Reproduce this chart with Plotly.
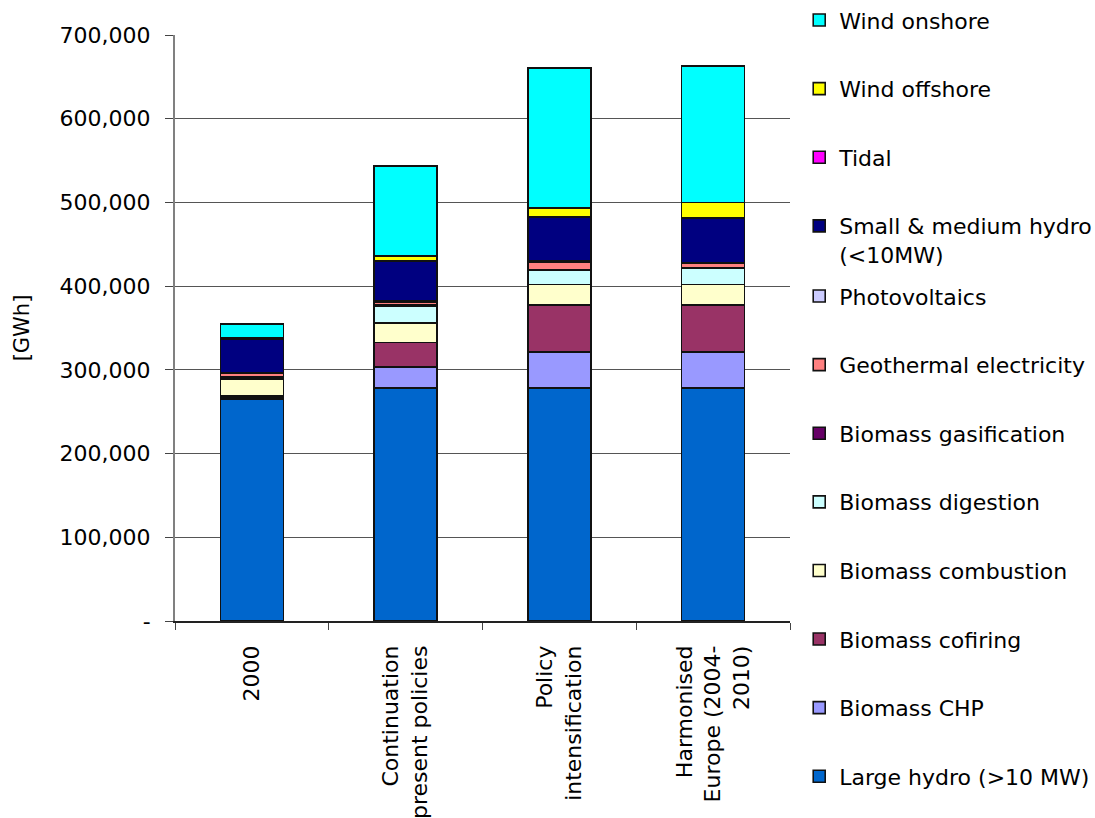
import plotly.graph_objects as go

# Renewable electricity generation by scenario, in GWh
scenarios = ["2000", "Continuation<br>present policies", "Policy<br>intensification",
             "Harmonised<br>Europe (2004-<br>2010)"]

large_hydro = [264900, 278400, 278400, 278400]
biomass_chp = [2000, 24700, 43000, 43000]
biomass_cofiring = [2000, 29400, 55800, 55800]
biomass_combustion = [20000, 23200, 24600, 24600]
biomass_digestion = [2500, 20100, 16700, 19600]
biomass_gasification = [500, 1500, 1500, 1000]
geothermal = [4500, 3500, 8400, 5000]
photovoltaics = [200, 1200, 1400, 1000]
small_hydro = [40600, 47900, 52600, 53000]
tidal = [500, 500, 500, 500]
wind_offshore = [100, 5400, 10400, 17800]
wind_onshore = [16700, 107900, 167500, 163200]

# Stack order bottom to top: (name, values, fill colour)
series = [
    ("Large hydro (>10 MW)", large_hydro, "#0066CC"),
    ("Biomass CHP", biomass_chp, "#9999FF"),
    ("Biomass cofiring", biomass_cofiring, "#993366"),
    ("Biomass combustion", biomass_combustion, "#FFFFCC"),
    ("Biomass digestion", biomass_digestion, "#CCFFFF"),
    ("Biomass gasification", biomass_gasification, "#660066"),
    ("Geothermal electricity", geothermal, "#FF8080"),
    ("Photovoltaics", photovoltaics, "#CCCCFF"),
    ("Small & medium hydro<br>(<10MW)", small_hydro, "#000080"),
    ("Tidal", tidal, "#FF00FF"),
    ("Wind offshore", wind_offshore, "#FFFF00"),
    ("Wind onshore", wind_onshore, "#00FFFF"),
]

y_tick_vals = [0, 100000, 200000, 300000, 400000, 500000, 600000, 700000]
y_tick_text = ["-", "100,000", "200,000", "300,000", "400,000", "500,000",
               "600,000", "700,000"]

FONT = "DejaVu Sans"
n = len(series)

fig = go.Figure()
for i, (name, vals, color) in enumerate(series):
    # upper four series go into the first legend, the rest into the second;
    # the legend lists them top of the stack first
    legend_id = "legend" if i >= 8 else "legend2"
    fig.add_trace(go.Bar(
        x=scenarios, y=vals, name=name,
        marker=dict(color=color, line=dict(color="#111111", width=1.6)),
        legendgroup=name, legend=legend_id, legendrank=n - i,
    ))

legend_common = dict(
    traceorder="grouped", tracegroupgap=37,
    font=dict(family=FONT, size=22, color="black"),
    bgcolor="rgba(0,0,0,0)", xanchor="left", yanchor="top",
    itemwidth=30, valign="top",
)

fig.update_layout(
    barmode="stack",
    bargap=0.59,
    width=1095, height=818,
    margin=dict(l=175, r=305, t=35, b=197, autoexpand=False),
    paper_bgcolor="white", plot_bgcolor="white",
    font=dict(family=FONT, size=22, color="black"),
    legend=dict(x=1.015, y=1.061, **legend_common),
    legend2=dict(x=1.015, y=0.59, maxheight=700, **legend_common),
    xaxis=dict(
        tickangle=-90, showline=True, linecolor="#222222", linewidth=1.5,
        ticks="outside", ticklen=7, tickcolor="#444444",
        tickson="boundaries", showgrid=False, automargin=False,
        ticklabelstandoff=14,
        tickfont=dict(family=FONT, size=22, color="black"),
    ),
    yaxis=dict(
        range=[0, 700000], tickvals=y_tick_vals, ticktext=y_tick_text,
        showline=True, linecolor="#808080", linewidth=2,
        ticks="outside", ticklen=8, tickcolor="#444444",
        showgrid=True, gridcolor="#555555", gridwidth=1,
        zeroline=False, ticklabelstandoff=10, automargin=False,
        tickfont=dict(family=FONT, size=22, color="black"),
        title=dict(text="[GWh]", font=dict(family=FONT, size=21, color="black"),
                   standoff=24),
    ),
    showlegend=True,
)

fig.write_html("out.html")
